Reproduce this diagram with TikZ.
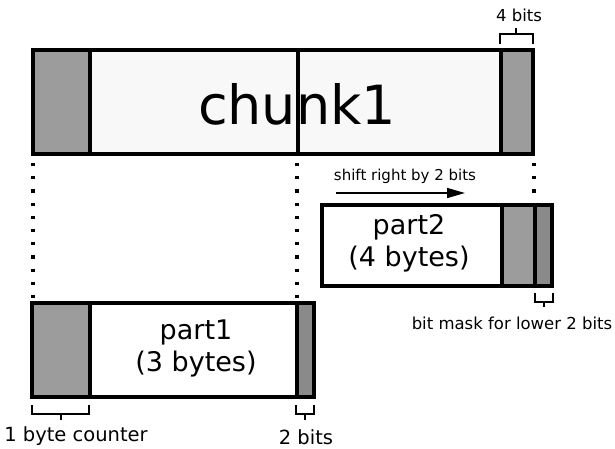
\documentclass[tikz,border=0pt]{standalone}
\usepackage{fontspec}
\setmainfont{DejaVu Sans}
\usetikzlibrary{arrows.meta}
\definecolor{midgray}{HTML}{9C9C9C}
\definecolor{darkgray2}{HTML}{8A8A8A}
\definecolor{paper}{HTML}{F8F8F8}
\begin{document}
\begin{tikzpicture}[x=1pt,y=-1pt,
  box/.style={line width=4.5pt,draw=black},
  seg/.style={line width=3.5pt,draw=black},
  dotline/.style={line width=3.2pt,dash pattern=on 3.2pt off 10pt},
  brace/.style={line width=2pt,draw=black},
  lbl/.style={inner sep=0pt,anchor=center}]
\useasboundingbox (0,0) rectangle (615,448);
% chunk1
\fill[paper] (33,50) rectangle (534,155);
\fill[midgray] (33,50) rectangle (90,155);
\fill[midgray] (501,50) rectangle (534,155);
\draw[box] (33,50) rectangle (533,154);
\draw[seg] (90,50) -- (90,154);
\draw[seg] (298,50) -- (298,154);
\draw[seg] (501,50) -- (501,154);
\node[lbl,font=\fontsize{54}{60}\selectfont] (c1) at (297,104) {chunk1};
% 4 bits brace
\draw[brace] (500,44) -- (500,34) -- (533,34) -- (533,44);
\draw[brace] (516,34) -- (516,28);
\node[lbl,font=\fontsize{16.5}{19}\selectfont] (b4) at (519,15) {4 bits};
% dotted lines
\draw[dotline] (33,163) -- (33,298);
\draw[dotline] (297,163) -- (297,298);
\draw[dotline] (534,163) -- (534,198);
% shift arrow
\node[lbl,font=\fontsize{15}{17}\selectfont] (sh) at (405,176) {shift right by 2 bits};
\coordinate (a1) at (336,193);
\coordinate (a2) at (465,193);
\draw[line width=1.6pt,-{Triangle[length=18pt,width=10pt]}] (a1) -- (a2);
% part2
\fill[white] (322,205) rectangle (552,286);
\fill[midgray] (502,205) rectangle (535,286);
\fill[darkgray2] (535,205) rectangle (552,286);
\draw[box] (322,205) rectangle (552,286);
\draw[seg] (502,205) -- (502,286);
\draw[seg] (535,205) -- (535,286);
\node[lbl,font=\fontsize{27}{32}\selectfont,align=center] (p2) at (409,243) {part2\\(4 bytes)};
\draw[brace] (535,293) -- (535,302) -- (553,302) -- (553,293);
\draw[brace] (544,302) -- (544,307);
\node[lbl,font=\fontsize{16.5}{19}\selectfont] (bm) at (512,323) {bit mask for lower 2 bits};
% part1
\fill[white] (32,303) rectangle (314,397);
\fill[midgray] (32,303) rectangle (90,397);
\fill[darkgray2] (297,303) rectangle (314,397);
\draw[box] (32,303) rectangle (314,397);
\draw[seg] (90,303) -- (90,397);
\draw[seg] (297,303) -- (297,397);
\node[lbl,font=\fontsize{27}{32}\selectfont,align=center] (p1) at (196,348) {part1\\(3 bytes)};
\draw[brace] (32,405) -- (32,414) -- (89,414) -- (89,405);
\draw[brace] (61,414) -- (61,420);
\node[lbl,font=\fontsize{19.5}{22}\selectfont] (bc) at (76,436) {1 byte counter};
\draw[brace] (296,405) -- (296,414) -- (314,414) -- (314,405);
\draw[brace] (305,414) -- (305,420);
\node[lbl,font=\fontsize{19.5}{22}\selectfont] (b2) at (306,437) {2 bits};
\end{tikzpicture}
\end{document}
